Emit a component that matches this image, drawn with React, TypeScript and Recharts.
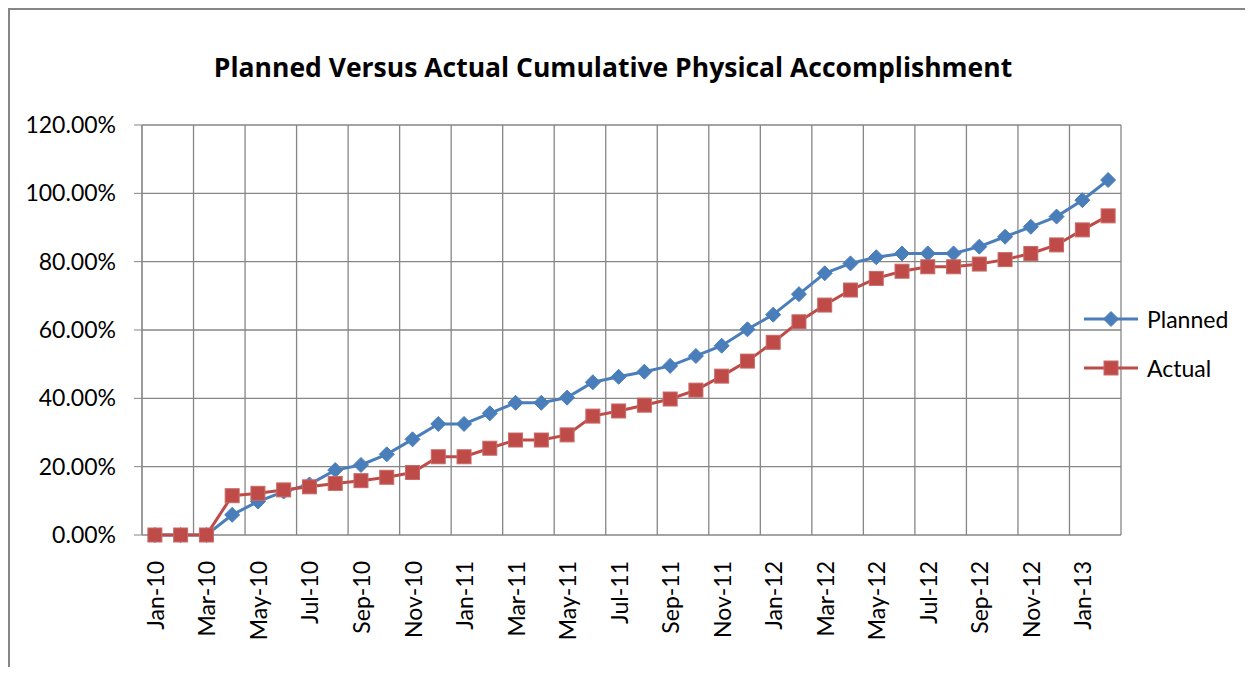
import {
  CartesianGrid,
  Legend,
  Line,
  LineChart,
  XAxis,
  YAxis,
} from "recharts";

const months = [
  "Jan-10", "Feb-10", "Mar-10", "Apr-10", "May-10", "Jun-10", "Jul-10", "Aug-10",
  "Sep-10", "Oct-10", "Nov-10", "Dec-10", "Jan-11", "Feb-11", "Mar-11", "Apr-11",
  "May-11", "Jun-11", "Jul-11", "Aug-11", "Sep-11", "Oct-11", "Nov-11", "Dec-11",
  "Jan-12", "Feb-12", "Mar-12", "Apr-12", "May-12", "Jun-12", "Jul-12", "Aug-12",
  "Sep-12", "Oct-12", "Nov-12", "Dec-12", "Jan-13", "Feb-13",
];

// cumulative %
const planned = [
  0, 0, 0, 5.9, 9.8, 12.7, 14.8, 19.0, 20.5, 23.6, 28.0, 32.5, 32.5, 35.6, 38.7,
  38.7, 40.2, 44.7, 46.3, 47.8, 49.5, 52.4, 55.4, 60.2, 64.5, 70.5, 76.6, 79.5,
  81.3, 82.4, 82.4, 82.4, 84.4, 87.3, 90.2, 93.2, 98.0, 103.9,
];

const actual = [
  0, 0, 0, 11.5, 12.2, 13.2, 14.1, 15.1, 15.9, 16.9, 18.3, 22.9, 22.9, 25.4, 27.8,
  27.8, 29.3, 34.8, 36.3, 38.0, 39.8, 42.4, 46.5, 50.9, 56.4, 62.4, 67.3, 71.7,
  75.1, 77.2, 78.5, 78.5, 79.3, 80.6, 82.4, 84.9, 89.3, 93.4,
];

const yTicks = [0, 20, 40, 60, 80, 100, 120];
const legendOrder = ["planned", "actual"];

const data = months.map((month, idx) => ({
  idx,
  month,
  planned: planned[idx],
  actual: actual[idx],
}));

// labels on every other month, grid lines between categories
const labelTicks = months.map((_, i) => i).filter((i) => i % 2 === 0);
const boundaryTicks = labelTicks.map((i) => i - 0.5).concat(months.length - 0.5);

const BLUE = "#4A7EBB";
const RED = "#BE4B48";
const GRID = "#868686";
const FONT = "Lato, 'Open Sans', sans-serif";

function Diamond({ cx, cy, color }: { cx: number; cy: number; color: string }) {
  const r = 7.5;
  return (
    <path
      d={`M${cx},${cy - r} L${cx + r},${cy} L${cx},${cy + r} L${cx - r},${cy} Z`}
      fill={color}
      stroke={color}
      strokeWidth={1}
    />
  );
}

function Square({ cx, cy, color }: { cx: number; cy: number; color: string }) {
  const r = 7;
  return (
    <rect
      x={cx - r}
      y={cy - r}
      width={r * 2}
      height={r * 2}
      fill={color}
      stroke="#C86A67"
      strokeWidth={1}
    />
  );
}

const renderDiamond = (props: any) => (
  <Diamond key={`p-${props.index}`} cx={props.cx} cy={props.cy} color={BLUE} />
);

const renderSquare = (props: any) => (
  <Square key={`a-${props.index}`} cx={props.cx} cy={props.cy} color={RED} />
);

function MonthTick({ x, y, payload }: any) {
  return (
    <text
      x={x}
      y={y}
      transform={`rotate(-90 ${x} ${y})`}
      textAnchor="end"
      dominantBaseline="central"
      fontFamily={FONT}
      fontSize={23}
      fill="#000"
    >
      {months[payload.value]}
    </text>
  );
}

function ChartLegend({ payload }: any) {
  const items = [...(payload || [])].sort(
    (a: any, b: any) => legendOrder.indexOf(a.dataKey) - legendOrder.indexOf(b.dataKey)
  );
  return (
    <div style={{ fontFamily: FONT, fontSize: 23, color: "#000" }}>
      {items.map((entry: any) => (
        <div
          key={entry.value}
          style={{ display: "flex", alignItems: "center", height: 49 }}
        >
          <svg width={60} height={20}>
            <line x1={1} y1={10} x2={55} y2={10} stroke={entry.color} strokeWidth={3} />
            {entry.dataKey === "planned" ? (
              <Diamond cx={28} cy={10} color={entry.color} />
            ) : (
              <Square cx={28} cy={10} color={entry.color} />
            )}
          </svg>
          <span style={{ marginLeft: 4 }}>{entry.value}</span>
        </div>
      ))}
    </div>
  );
}

export default function App() {
  return (
    <div
      style={{
        position: "relative",
        width: 1237,
        height: 659,
        boxSizing: "border-box",
        borderTop: `2px solid ${GRID}`,
        borderLeft: `2px solid ${GRID}`,
        background: "#fff",
      }}
    >
      <div
        style={{
          position: "absolute",
          left: 0,
          top: 43,
          width: 1206,
          textAlign: "center",
          fontFamily: "'Open Sans', Lato, sans-serif",
          fontWeight: 700,
          fontSize: 26.5,
          lineHeight: "28px",
          color: "#000",
        }}
      >
        Planned Versus Actual Cumulative Physical Accomplishment
      </div>
      <LineChart
        width={1235}
        height={657}
        data={data}
        margin={{ top: 115, right: 124, bottom: 32, left: 0 }}
      >
        <CartesianGrid xAxisId="grid" stroke={GRID} strokeWidth={1.3} />
        <XAxis
          xAxisId="grid"
          type="number"
          dataKey="idx"
          domain={[-0.5, months.length - 0.5]}
          ticks={boundaryTicks}
          tickFormatter={() => ""}
          tickSize={8}
          height={0}
          stroke={GRID}
          interval={0}
        />
        <XAxis
          xAxisId="main"
          type="number"
          dataKey="idx"
          domain={[-0.5, months.length - 0.5]}
          ticks={labelTicks}
          tick={<MonthTick />}
          tickLine={false}
          axisLine={false}
          tickSize={0}
          tickMargin={26}
          height={100}
          interval={0}
        />
        <YAxis
          type="number"
          domain={[0, 120]}
          ticks={yTicks}
          tickFormatter={(v: number) => `${v.toFixed(2)}%`}
          tick={{ fontFamily: FONT, fontSize: 23, fill: "#000" }}
          tickSize={8}
          tickMargin={18}
          width={132}
          stroke={GRID}
          interval={0}
        />
        <Legend
          layout="vertical"
          align="center"
          verticalAlign="middle"
          content={<ChartLegend />}
          wrapperStyle={{ left: 1073, top: 284, width: 170 }}
        />
        <Line
          xAxisId="main"
          type="linear"
          dataKey="planned"
          name="Planned"
          stroke={BLUE}
          strokeWidth={3}
          dot={renderDiamond}
          activeDot={false}
          isAnimationActive={false}
        />
        <Line
          xAxisId="main"
          type="linear"
          dataKey="actual"
          name="Actual"
          stroke={RED}
          strokeWidth={3}
          dot={renderSquare}
          activeDot={false}
          isAnimationActive={false}
        />
      </LineChart>
    </div>
  );
}
